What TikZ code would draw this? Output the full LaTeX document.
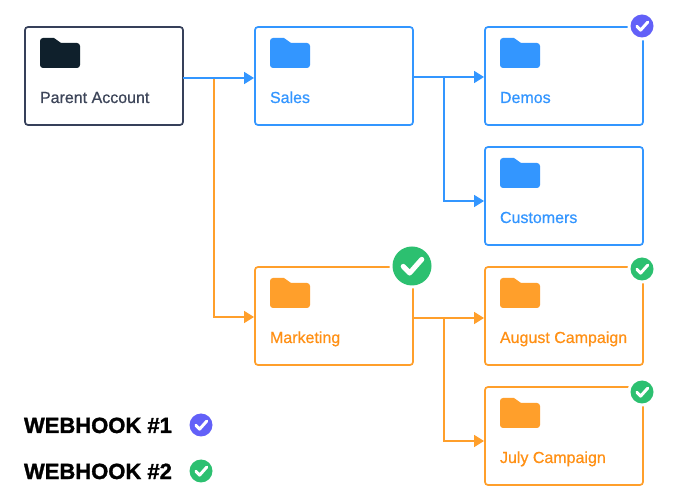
\documentclass[tikz,border=0pt]{standalone}
\usepackage{fontspec}
\setmainfont{Liberation Sans}
\newfontfamily\labelfont[FakeBold=0.6]{Liberation Sans}
\newfontfamily\legendfont[FakeBold=1.4]{Liberation Sans Bold}
\usetikzlibrary{arrows.meta,calc}
\definecolor{cblue}{HTML}{3396FF}
\definecolor{corange}{HTML}{FF9F2B}
\definecolor{torange}{HTML}{FF9014}
\definecolor{cdark}{HTML}{36405A}
\definecolor{tdark}{HTML}{3D4559}
\definecolor{cfolder}{HTML}{0F202C}
\definecolor{cpurple}{HTML}{6260F8}
\definecolor{cgreen}{HTML}{2CC070}
\tikzset{
  card/.style={draw=#1,line width=1.7pt,rounded corners=3pt,fill=white,minimum width=158pt,minimum height=98pt,inner sep=0pt,outer sep=0pt},
  cardlabel/.style={anchor=base west,inner sep=0pt,outer sep=0pt,text=#1,font=\labelfont\fontsize{16}{18}\selectfont},
  conn/.style={draw=#1,line width=1.7pt,-{Triangle[length=10pt,width=12pt]}},
  legendtext/.style={anchor=base west,inner sep=0pt,outer sep=0pt,font=\legendfont\fontsize{22}{26}\selectfont},
  pics/folder/.style={code={
    \fill[#1,rounded corners=3pt] (-20,-10) rectangle (20,15);
    \fill[#1] (-20,-4) -- (-20,-12) arc[start angle=180,end angle=270,radius=3] -- (-6,-15) -- (1,-10) -- (1,-4) -- cycle;
  }},
  pics/badge/.style args={#1/#2}{code={
    \fill[white] (0,0) circle ({#2+3});
    \fill[#1] (0,0) circle (#2);
    \draw[white,line width={#2*0.26},line cap=round,line join=round]
      ({-#2*0.45},{#2*0.02}) -- ({-#2*0.12},{#2*0.36}) -- ({#2*0.5},{-#2*0.34});
  }}
}
\begin{document}
\begin{tikzpicture}[x=1pt,y=-1pt]
\useasboundingbox[fill=white] (0,0) rectangle (675,502);
% cards
\node[card=cdark]   (parent)    at (104,76)  {};
\node[card=cblue]   (sales)     at (334,76)  {};
\node[card=cblue]   (demos)     at (564,76)  {};
\node[card=cblue]   (customers) at (564,196) {};
\node[card=corange] (marketing) at (334,316) {};
\node[card=corange] (august)    at (564,316) {};
\node[card=corange] (july)      at (564,436) {};
% connectors
\coordinate (jorange) at ($(parent.east)+(31,2)$);
\coordinate (jblue) at ($(sales.east)+(31,1)$);
\coordinate (jsub) at ($(marketing.east)+(31,2)$);
\draw[conn=corange] (jorange) |- ($(marketing.west)+(-1,1)$);
\draw[conn=corange] (jsub) |- ($(july.west)+(-1,5)$);
\draw[conn=corange] ($(marketing.east)+(0,2)$) -- ($(august.west)+(-1,2)$);
\draw[conn=cblue] ($(parent.east)+(0,2)$) -- ($(sales.west)+(-1,2)$);
\draw[conn=cblue] (jblue) |- ($(customers.west)+(-1,5)$);
\draw[conn=cblue] ($(sales.east)+(0,1)$) -- ($(demos.west)+(-1,1)$);
% folders
\pic at (60,53) {folder=cfolder};
\pic at (290,53) {folder=cblue};
\pic at (520,53) {folder=cblue};
\pic at (520,173) {folder=cblue};
\pic at (290,293) {folder=corange};
\pic at (520,293) {folder=corange};
\pic at (520,413) {folder=corange};
% labels
\node[cardlabel=tdark]   (lparent)    at (40,103)  {Parent Account};
\node[cardlabel=cblue]   (lsales)     at (270,103) {Sales};
\node[cardlabel=cblue]   (ldemos)     at (500,103) {Demos};
\node[cardlabel=cblue]   (lcustomers) at (500,223) {Customers};
\node[cardlabel=torange] (lmarketing) at (270,343) {Marketing};
\node[cardlabel=torange] (laugust)    at (500,343) {August Campaign};
\node[cardlabel=torange] (ljuly)      at (500,463) {July Campaign};
% badges
\pic at (642,26) {badge={cpurple/11.5}};
\pic at (412,266) {badge={cgreen/19.5}};
\pic at (642,269) {badge={cgreen/11.5}};
\pic at (642,392) {badge={cgreen/11.5}};
% legend
\node[legendtext] (w1) at (24,433) {WEBHOOK \#1};
\node[legendtext] (w2) at (24,479) {WEBHOOK \#2};
\pic at (201,425) {badge={cpurple/11.5}};
\pic at (201,471) {badge={cgreen/11.5}};
\end{tikzpicture}
\end{document}
